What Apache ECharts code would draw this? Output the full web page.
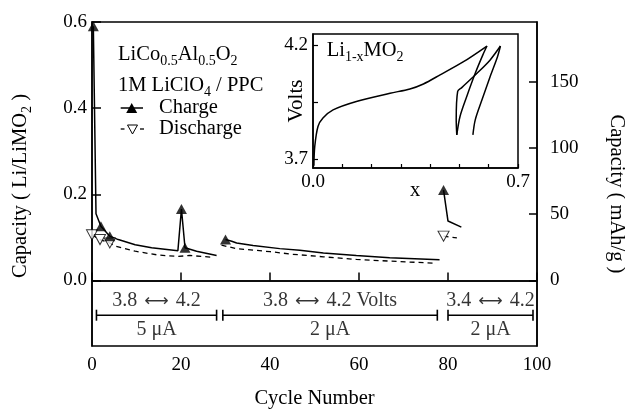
<!DOCTYPE html>
<html>
<head>
<meta charset="utf-8">
<script src="https://cdn.jsdelivr.net/npm/echarts@6/dist/echarts.min.js"></script>
<style>
html, body { margin: 0; padding: 0; background: #fff; }
#main { width: 625px; height: 414px; }
</style>
</head>
<body>
<div id="main"></div>
<script>
// capacity (Li per LiMO2) vs cycle number
var chargeSeg1 = [[0.3, 0.59], [0.9, 0.155], [2, 0.126], [4, 0.103], [5.9, 0.095], [9.7, 0.083], [13.4, 0.076],
  [19.3, 0.069], [20.1, 0.166], [20.9, 0.076], [22.2, 0.072], [23.5, 0.068], [28, 0.058]];
var chargeSeg2 = [[30, 0.095], [31.4, 0.091], [32.5, 0.087], [36.2, 0.081], [42.2, 0.074], [46.7, 0.070],
  [52, 0.064], [59.4, 0.058], [66.9, 0.053], [78.1, 0.048]];
var chargeSeg3 = [[79, 0.21], [80, 0.138], [83, 0.124]];
var dischargeSeg1 = [[0, 0.106], [1.8, 0.095], [4, 0.087], [5.2, 0.080], [9.7, 0.068], [14.9, 0.059],
  [19.4, 0.056], [22, 0.058], [27.2, 0.054]];
var dischargeSeg2 = [[29.1, 0.082], [32.5, 0.074], [40, 0.067], [45, 0.061], [52, 0.055], [59.4, 0.049],
  [66.9, 0.045], [77.4, 0.040]];
var dischargeSeg3 = [[79, 0.103], [82, 0.099]];
var chargeMarks = [[0.3, 0.59], [2, 0.126], [4, 0.103], [20.1, 0.166], [20.9, 0.076], [30, 0.095], [79, 0.21]];
var dischargeMarks = [[0, 0.106], [1.8, 0.095], [4, 0.087], [79, 0.103]];

// voltage windows / currents below zero
var bracketSpans = [[1, 28], [29.4, 77.6], [80, 99.1]];
var rangeTexts = [['3.8', '4.2'], ['3.8', '4.2 Volts'], ['3.4', '4.2']];
var currentTexts = ['5 μA', '2 μA', '2 μA'];

// inset: voltage vs x in Li(1-x)MO2
var insetCharge1 = [[0.003, 3.67], [0.006, 3.755], [0.017, 3.843], [0.034, 3.88], [0.0685, 3.916], [0.148, 3.953],
  [0.263, 3.989], [0.331, 4.008], [0.377, 4.03], [0.434, 4.07], [0.514, 4.128], [0.594, 4.197]];
var insetDischarge1 = [[0.594, 4.197], [0.58, 4.158], [0.554, 4.077], [0.525, 3.975], [0.502, 3.887], [0.491, 3.806]];
var insetCharge2 = [[0.491, 3.806], [0.489, 3.872], [0.494, 3.997], [0.508, 4.014], [0.56, 4.077], [0.605, 4.136], [0.64, 4.197]];
var insetDischarge2 = [[0.64, 4.197], [0.63, 4.15], [0.605, 4.063], [0.577, 3.96], [0.554, 3.872], [0.546, 3.806]];

var leftTicks = [0, 0.2, 0.4, 0.6];
var rightTicks = [0, 50, 100, 150];
var insetXTicks = [0, 0.1, 0.2, 0.3, 0.4, 0.5, 0.6, 0.7];
var insetXLabels = [0, 0.7];
var insetYTicks = [3.7, 3.95, 4.2];
var insetYLabels = [3.7, 4.2];

var F = 'Liberation Serif';
var LI_TO_MAH = 325; // Li per LiMO2 -> mAh/g
var yMin = -0.152, yMax = 0.6;
var bracketLevel = -0.0805;

var rich = {
  m: { fontSize: 20.5, fontFamily: F, lineHeight: 21, verticalAlign: 'top', color: '#000' },
  s: { fontSize: 14, fontFamily: F, lineHeight: 14, verticalAlign: 'top', padding: [10, 0, 0, 0], color: '#000' }
};

function seg(data, dashed) {
  return {
    type: 'line', xAxisIndex: 0, yAxisIndex: 0, data: data, symbol: 'none', silent: true,
    lineStyle: { color: '#000', width: dashed ? 1.3 : 1.5, type: dashed ? [5, 4] : 'solid' }
  };
}
function insetLine(data) {
  return {
    type: 'line', xAxisIndex: 1, yAxisIndex: 2, data: data, symbol: 'none', smooth: 0.3, silent: true,
    lineStyle: { color: '#000', width: 1.5 }
  };
}

var series = [];
var first = seg(chargeSeg1, false);
first.markLine = {
  silent: true, symbol: 'none', label: { show: false },
  lineStyle: { color: '#000', width: 1.5, type: 'solid' },
  data: [{ yAxis: 0 }]
};
series.push(first, seg(chargeSeg2, false), seg(chargeSeg3, false),
  seg(dischargeSeg1, true), seg(dischargeSeg2, true), seg(dischargeSeg3, true));

series.push({
  type: 'scatter', data: dischargeMarks, symbol: 'path://M0,0L10,0L5,9Z', symbolSize: [11, 10], clip: false,
  itemStyle: { color: '#fff', borderColor: '#000', borderWidth: 1 }, silent: true, z: 4
});
series.push({
  type: 'scatter', data: chargeMarks, symbol: 'triangle', symbolSize: [11, 10], clip: false,
  itemStyle: { color: '#000' }, silent: true, z: 5
});

bracketSpans.forEach(function (s) {
  series.push({
    type: 'line', data: [[s[0], bracketLevel], [s[1], bracketLevel]], symbol: 'rect', symbolSize: [1.6, 11],
    showAllSymbol: true, itemStyle: { color: '#000' }, lineStyle: { color: '#000', width: 1.5 }, silent: true
  });
});
var spanCenters = bracketSpans.map(function (s) { return [(s[0] + s[1]) / 2, bracketLevel]; });
var labelRich = {
  n: { fontSize: 20, fontFamily: F, color: '#000' },
  a: { fontSize: 17, fontFamily: 'DejaVu Sans', color: '#000', padding: [0, 2, 0, 2] }
};
series.push({
  type: 'scatter', data: spanCenters, symbolSize: 0, silent: true,
  label: {
    show: true, position: 'inside', offset: [0, -14], rich: labelRich,
    formatter: function (p) {
      var t = rangeTexts[p.dataIndex];
      return '{n|' + t[0] + ' }{a|⟷}{n| ' + t[1] + '}';
    }
  }
});
series.push({
  type: 'scatter', data: spanCenters, symbolSize: 0, silent: true,
  label: {
    show: true, position: 'inside', offset: [0, 14.5], color: '#000', fontFamily: F, fontSize: 20,
    formatter: function (p) { return currentTexts[p.dataIndex]; }
  }
});

series.push(insetLine(insetCharge1), insetLine(insetDischarge1), insetLine(insetCharge2), insetLine(insetDischarge2));

var axisText = { color: '#000', fontFamily: F, fontSize: 19 };
var titleText = { fontSize: 20.5, fontFamily: F, fill: '#000', verticalAlign: 'middle' };

var option = {
  animation: false,
  backgroundColor: '#fff',
  grid: [
    { left: 92, top: 22, right: 88, bottom: 65, show: true, borderColor: '#000', borderWidth: 1.5, backgroundColor: 'transparent' },
    { left: 313, top: 34, width: 205, height: 134, show: true, borderColor: '#000', borderWidth: 1.5, backgroundColor: 'transparent' }
  ],
  xAxis: [
    {
      type: 'value', gridIndex: 0, min: 0, max: 100, interval: 20,
      name: 'Cycle Number', nameLocation: 'middle', nameGap: 42,
      nameTextStyle: { color: '#000', fontFamily: F, fontSize: 20.5 },
      axisLine: { lineStyle: { color: '#000', width: 1.5 } },
      axisTick: { inside: true, length: 8, lineStyle: { color: '#000', width: 1.5 } },
      axisLabel: Object.assign({ margin: 10 }, axisText),
      splitLine: { show: false }
    },
    {
      type: 'value', gridIndex: 1, min: 0, max: 0.7,
      axisLine: { lineStyle: { color: '#000', width: 1.5 } },
      axisTick: { inside: true, length: 4, customValues: insetXTicks, lineStyle: { color: '#000', width: 1.2 } },
      axisLabel: Object.assign({ margin: 5, customValues: insetXLabels, formatter: function (v) { return v.toFixed(1); } }, axisText),
      splitLine: { show: false }
    }
  ],
  yAxis: [
    {
      type: 'value', gridIndex: 0, min: yMin, max: yMax, position: 'left',
      axisLine: { lineStyle: { color: '#000', width: 1.5 } },
      axisTick: { inside: true, length: 9, customValues: leftTicks, lineStyle: { color: '#000', width: 1.5 } },
      axisLabel: Object.assign({ margin: 5, customValues: leftTicks, formatter: function (v) { return v.toFixed(1); } }, axisText),
      splitLine: { show: false }
    },
    {
      type: 'value', gridIndex: 0, min: yMin * LI_TO_MAH, max: yMax * LI_TO_MAH, position: 'right', alignTicks: false,
      axisLine: { lineStyle: { color: '#000', width: 1.5 } },
      axisTick: { inside: true, length: 8, customValues: rightTicks, lineStyle: { color: '#000', width: 1.5 } },
      axisLabel: Object.assign({ margin: 13, customValues: rightTicks }, axisText),
      splitLine: { show: false }
    },
    {
      type: 'value', gridIndex: 1, min: 3.66, max: 4.25,
      axisLine: { lineStyle: { color: '#000', width: 1.5 } },
      axisTick: { inside: true, length: 5, customValues: insetYTicks, lineStyle: { color: '#000', width: 1.2 } },
      axisLabel: Object.assign({ margin: 5, customValues: insetYLabels, formatter: function (v) { return v.toFixed(1); } }, axisText),
      splitLine: { show: false }
    }
  ],
  graphic: [
    { type: 'text', x: 21, y: 186, rotation: Math.PI / 2,
      style: { text: '{m|Capacity ( Li/LiMO}{s|2}{m| )}', rich: rich, align: 'center', verticalAlign: 'middle' } },
    { type: 'text', x: 616, y: 194, rotation: -Math.PI / 2,
      style: Object.assign({ text: 'Capacity ( mAh/g )', align: 'center' }, titleText) },
    { type: 'text', x: 118, y: 55,
      style: { text: '{m|LiCo}{s|0.5}{m|Al}{s|0.5}{m|O}{s|2}', rich: rich, align: 'left', verticalAlign: 'middle' } },
    { type: 'text', x: 118, y: 85.8,
      style: { text: '{m|1M LiClO}{s|4}{m| / PPC}', rich: rich, align: 'left', verticalAlign: 'middle' } },
    { type: 'line', shape: { x1: 120.7, y1: 108, x2: 143, y2: 108 }, style: { stroke: '#000', lineWidth: 1.5 } },
    { type: 'polygon', shape: { points: [[126.2, 113], [137.2, 113], [131.7, 103]] }, style: { fill: '#000' } },
    { type: 'text', x: 159, y: 107.5, style: Object.assign({ text: 'Charge', align: 'left' }, titleText) },
    { type: 'line', shape: { x1: 120.7, y1: 129, x2: 124.5, y2: 129 }, style: { stroke: '#000', lineWidth: 1.3 } },
    { type: 'line', shape: { x1: 140, y1: 129, x2: 144, y2: 129 }, style: { stroke: '#000', lineWidth: 1.3 } },
    { type: 'polygon', shape: { points: [[127.5, 125], [137.5, 125], [132.5, 134]] }, style: { fill: '#fff', stroke: '#000', lineWidth: 1 } },
    { type: 'text', x: 159, y: 128.3, style: Object.assign({ text: 'Discharge', align: 'left' }, titleText) },
    { type: 'text', x: 326.7, y: 50.5,
      style: { text: '{m|Li}{s|1-x}{m|MO}{s|2}', rich: rich, align: 'left', verticalAlign: 'middle' } },
    { type: 'text', x: 296, y: 101, rotation: Math.PI / 2,
      style: Object.assign({ text: 'Volts', align: 'center' }, titleText, { fontSize: 21 }) },
    { type: 'text', x: 415, y: 190.5, style: Object.assign({ text: 'x', align: 'center' }, titleText) }
  ],
  series: series
};

var myChart = echarts.init(document.getElementById('main'));
myChart.setOption(option);
</script>
</body>
</html>
